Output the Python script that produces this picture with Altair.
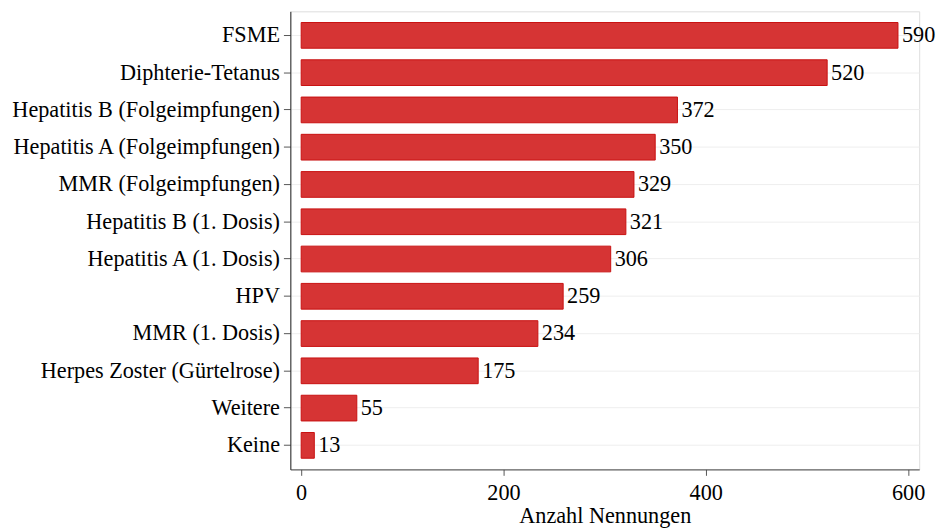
import altair as alt
import pandas as pd

categories = ["FSME", "Diphterie-Tetanus", "Hepatitis B (Folgeimpfungen)",
              "Hepatitis A (Folgeimpfungen)", "MMR (Folgeimpfungen)",
              "Hepatitis B (1. Dosis)", "Hepatitis A (1. Dosis)", "HPV",
              "MMR (1. Dosis)", "Herpes Zoster (Gürtelrose)", "Weitere", "Keine"]
values = [590, 520, 372, 350, 329, 321, 306, 259, 234, 175, 55, 13]
x_ticks = [0, 200, 400, 600]

df = pd.DataFrame({"cat": categories, "val": values})

FONT = "Liberation Serif"
FS = 22.5

y_enc = alt.Y("cat:N", sort=categories, title=None,
              scale=alt.Scale(paddingInner=0.31, paddingOuter=0.3),
              axis=alt.Axis(labelFont=FONT, labelFontSize=FS, labelColor="black",
                            labelPadding=4, tickSize=7, tickColor="#555",
                            domainColor="#222", grid=True, gridColor="#eeeeee",
                            bandPosition=0.5, labelLimit=400))
x_enc = alt.X("val:Q", title="Anzahl Nennungen",
              scale=alt.Scale(domain=[-10.7, 611], nice=False, zero=False),
              axis=alt.Axis(values=x_ticks, labelFont=FONT, labelFontSize=FS,
                            labelColor="black", titleFont=FONT, titleFontSize=FS,
                            titleFontWeight="normal", titleColor="black",
                            tickSize=6, tickColor="#555", domainColor="#444",
                            labelPadding=6, titlePadding=1, grid=False))

base = alt.Chart(df)
bars = base.mark_bar(color="#d63434", stroke="#c81010", strokeWidth=1).encode(
    y=y_enc, x=x_enc)
labels = base.mark_text(align="left", baseline="middle", dx=4, font=FONT,
                        fontSize=FS, color="black").encode(
    y=alt.Y("cat:N", sort=categories), x=alt.X("val:Q"), text=alt.Text("val:Q"))

chart = (bars + labels).properties(
    width=637, height=464,
    padding={"left": 2, "top": 0, "right": 0, "bottom": 0}
).configure_view(stroke=None).configure(background="white")

chart.save("out.html", embed_options={"renderer": "svg", "actions": False})
